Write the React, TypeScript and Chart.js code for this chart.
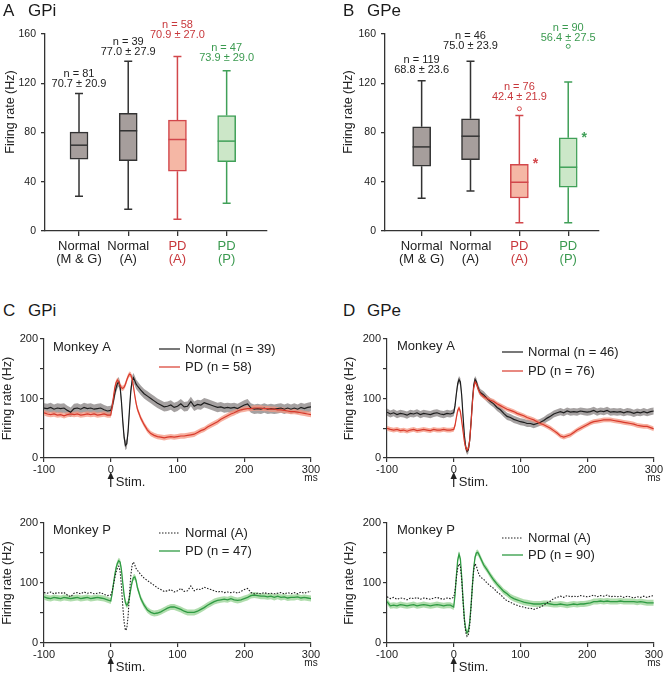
import React, { useEffect, useRef } from "react";
import { Chart, registerables } from "chart.js";

Chart.register(...registerables);

const FONT = "'Liberation Sans', Arial, Helvetica, sans-serif";
Chart.defaults.font.family = FONT;

// ---------------- Box plots (A: GPi, B: GPe) ----------------
const BOX_CATEGORIES = [["Normal", "(M & G)"], ["Normal", "(A)"], ["PD", "(A)"], ["PD", "(P)"]];
const BOX_TEXT_COLORS = ["#222222", "#222222", "#c8383c", "#3b9a50"];
const BOX_FILLS = ["#a69e9c", "#a69e9c", "#f5b7a5", "#cce7c8"];
const BOX_EDGES = ["#333333", "#333333", "#d2474b", "#40a058"];

const GPI_N = [81, 39, 58, 47];
const GPI_MEAN = [70.7, 77.0, 70.9, 73.9];
const GPI_SD = [20.9, 27.9, 27.0, 29.0];
const GPI_LOW = [28.2, 17.6, 9.5, 22.5];
const GPI_Q1 = [58.3, 57.2, 48.5, 56.4];
const GPI_MEDIAN = [69.7, 81.4, 74.3, 73.0];
const GPI_Q3 = [80.3, 95.5, 90.0, 93.8];
const GPI_HIGH = [111.7, 137.8, 141.8, 130.2];
const GPI_OUTLIERS: number[][] = [[], [], [], []];
const GPI_SIGNIFICANT = [false, false, false, false];
const GPI_LABEL_AT = [119.4, 145.4, 159.2, 140.5];

const GPE_N = [119, 46, 76, 90];
const GPE_MEAN = [68.8, 75.0, 42.4, 56.4];
const GPE_SD = [23.6, 23.9, 21.9, 27.5];
const GPE_LOW = [26.6, 32.5, 6.8, 6.8];
const GPE_Q1 = [52.6, 58.0, 26.8, 35.5];
const GPE_MEDIAN = [68.3, 77.0, 39.6, 51.8];
const GPE_Q3 = [84.6, 91.1, 54.2, 75.7];
const GPE_HIGH = [122.0, 137.8, 93.8, 121.0];
const GPE_OUTLIERS: number[][] = [[], [], [99.3], [150.0]];
const GPE_SIGNIFICANT = [false, false, true, true];
const GPE_LABEL_AT = [130.8, 150.3, 108.9, 156.8];

// ---------------- Peri-stimulus time histograms (C, D) ----------------
const TIME = [
  -100, -95, -90, -85, -80, -75, -70, -65, -60, -55, -50, -45, -40, -35, -30, -25, -20, -15, -10, -5,
  0, 2, 4, 6, 8, 10, 12, 14, 16, 18, 20, 22, 24, 26, 28, 30, 32, 34, 36, 38, 40,
  45, 50, 55, 60, 65, 70, 75, 80, 85, 90, 95, 100, 105, 110, 115, 120, 125, 130, 135, 140,
  145, 150, 155, 160, 165, 170, 175, 180, 185, 190, 195, 200, 205, 210, 215, 220, 225, 230, 235, 240,
  245, 250, 255, 260, 265, 270, 275, 280, 285, 290, 295, 300,
];

const GPI_A_NORMAL = [
  84, 83, 85, 82, 84, 83, 84, 80, 77, 83, 84, 82, 85, 83, 84, 82, 83, 84, 81, 79,
  80, 86, 96, 108, 118, 125, 128, 120, 95, 62, 35, 21, 24, 45, 80, 112, 130, 135, 130, 124, 121,
  114, 108, 104, 100, 96, 92, 89, 86, 87, 89, 85, 87, 91, 86, 87, 95, 87, 90, 89, 93,
  91, 89, 87, 85, 86, 84, 85, 84, 85, 83, 86, 89, 91, 84, 82, 83, 82, 84, 82, 83,
  82, 83, 84, 82, 84, 82, 84, 82, 85, 83, 85, 86,
];
const GPI_A_PD = [
  76, 74, 73, 74, 72, 73, 71, 73, 74, 73, 74, 72, 73, 74, 73, 74, 72, 73, 74, 72,
  72, 85, 102, 118, 127, 131, 128, 122, 118, 117, 119, 124, 131, 137, 141, 140, 133, 120, 105, 92, 82,
  67, 56, 47, 41, 38, 36, 35, 34, 35, 36, 35, 36, 37, 37, 38, 39, 40, 43, 46, 48,
  52, 55, 58, 61, 65, 68, 71, 74, 76, 79, 81, 82, 83, 83, 84, 84, 84, 83, 83, 82,
  82, 81, 81, 80, 79, 78, 78, 77, 76, 75, 74, 73,
];
const GPE_A_NORMAL = [
  77, 74, 76, 73, 75, 74, 72, 75, 74, 76, 73, 75, 74, 73, 75, 76, 74, 73, 75, 74,
  76, 88, 108, 125, 132, 128, 105, 70, 38, 18, 11, 14, 30, 60, 95, 122, 132, 128, 120, 114, 110,
  106, 100, 95, 91, 85, 81, 75, 70, 68, 65, 63, 61, 60, 58, 58, 56, 58, 60, 63, 67,
  70, 74, 76, 78, 76, 79, 77, 78, 77, 79, 78, 77, 78, 80, 77, 79, 78, 80, 77, 78,
  77, 78, 76, 78, 77, 75, 77, 76, 78, 76, 78, 79,
];
const GPE_A_PD = [
  50, 48, 47, 48, 46, 47, 45, 47, 48, 46, 47, 48, 47, 46, 48, 47, 47, 48, 47, 47,
  48, 55, 68, 80, 84, 78, 62, 45, 28, 17, 13, 16, 30, 58, 92, 118, 128, 125, 118, 112, 108,
  103, 100, 97, 95, 91, 88, 85, 82, 80, 78, 75, 73, 71, 68, 66, 64, 61, 58, 56, 53,
  50, 46, 42, 37, 35, 37, 39, 43, 47, 50, 53, 56, 59, 61, 62, 63, 64, 64, 64, 63,
  62, 61, 60, 59, 58, 57, 55, 54, 53, 53, 51, 49,
];
const GPI_P_PD = [
  77, 75, 74, 76, 75, 74, 76, 75, 74, 75, 76, 74, 75, 76, 74, 75, 76, 75, 74, 72,
  70, 82, 98, 113, 125, 133, 137, 135, 122, 100, 80, 67, 63, 66, 76, 90, 102, 109, 110, 104, 92,
  74, 63, 55, 51, 49, 50, 52, 55, 58, 60, 60, 58, 56, 53, 51, 51, 51, 53, 56, 59,
  63, 66, 69, 71, 72, 73, 72, 74, 72, 71, 72, 74, 76, 79, 80, 79, 78, 78, 77, 78,
  76, 78, 76, 77, 75, 76, 76, 77, 75, 76, 75, 74,
];
const GPE_P_PD = [
  69, 62, 63, 62, 64, 63, 62, 63, 64, 62, 63, 64, 63, 62, 63, 64, 63, 62, 63, 63,
  60, 80, 112, 138, 148, 140, 110, 72, 40, 22, 17, 20, 35, 62, 95, 125, 143, 150, 151, 147, 142,
  130, 122, 113, 105, 98, 92, 86, 82, 77, 74, 72, 70, 68, 67, 66, 65, 65, 65, 66, 66,
  65, 64, 64, 65, 64, 63, 64, 65, 64, 65, 65, 66, 67, 69, 69, 70, 69, 70, 69, 69,
  69, 70, 69, 69, 69, 69, 68, 69, 68, 67, 67, 67,
];
const GPI_A_NORMAL_SEM = 8;
const GPI_A_PD_SEM = 4.5;
const GPE_A_NORMAL_SEM = 6;
const GPE_A_PD_SEM = 4;
const GPI_P_PD_SEM = 5;
const GPE_P_PD_SEM = 5;

const BLACK = "#1e1e1e";
const GRAY_BAND = "rgba(105,98,98,0.6)";
const RED = "#d83a2c";
const RED_BAND = "rgba(244,150,128,0.75)";
const GREEN = "#2f9b43";
const GREEN_BAND = "rgba(150,210,145,0.75)";

function BoxPanel(props: any) {
  const ref = useRef<HTMLCanvasElement>(null);
  useEffect(() => {
    const { w, h, area, xMin, xMax, d, yTitleX, yTitleY } = props;
    const boxPlugin = {
      id: "boxExtras",
      beforeDatasetsDraw(chart: any) {
        const ctx = chart.ctx;
        const xs = chart.scales.x;
        const ys = chart.scales.y;
        ctx.save();
        ctx.lineWidth = 1.5;
        d.q1.forEach((_: number, i: number) => {
          const cx = xs.getPixelForValue(i + 1);
          const hi = ys.getPixelForValue(d.high[i]);
          const lo = ys.getPixelForValue(d.low[i]);
          ctx.strokeStyle = BOX_EDGES[i];
          ctx.beginPath();
          ctx.moveTo(cx, ys.getPixelForValue(d.q3[i]));
          ctx.lineTo(cx, hi);
          ctx.moveTo(cx - 4, hi);
          ctx.lineTo(cx + 4, hi);
          ctx.moveTo(cx, ys.getPixelForValue(d.q1[i]));
          ctx.lineTo(cx, lo);
          ctx.moveTo(cx - 4, lo);
          ctx.lineTo(cx + 4, lo);
          ctx.stroke();
        });
        ctx.restore();
      },
      afterDatasetsDraw(chart: any) {
        const ctx = chart.ctx;
        const xs = chart.scales.x;
        const ys = chart.scales.y;
        ctx.save();
        d.q1.forEach((_: number, i: number) => {
          const cx = xs.getPixelForValue(i + 1);
          // median
          const my = ys.getPixelForValue(d.median[i]);
          ctx.strokeStyle = BOX_EDGES[i];
          ctx.lineWidth = 1.5;
          ctx.beginPath();
          ctx.moveTo(cx - 9, my);
          ctx.lineTo(cx + 9, my);
          ctx.stroke();
          // outliers
          d.outliers[i].forEach((v: number) => {
            ctx.beginPath();
            ctx.lineWidth = 1;
            ctx.arc(cx, ys.getPixelForValue(v), 2, 0, Math.PI * 2);
            ctx.fillStyle = "#fff";
            ctx.fill();
            ctx.stroke();
          });
          // significance
          if (d.sig[i]) {
            ctx.fillStyle = BOX_EDGES[i];
            ctx.font = `bold 14px ${FONT}`;
            ctx.textAlign = "center";
            ctx.textBaseline = "alphabetic";
            ctx.fillText("*", cx + 16, ys.getPixelForValue(d.q3[i]) + 4);
          }
          // n and mean ± SD
          const ly = ys.getPixelForValue(d.labelAt[i]);
          ctx.fillStyle = BOX_TEXT_COLORS[i];
          ctx.font = `11px ${FONT}`;
          ctx.textAlign = "center";
          ctx.textBaseline = "middle";
          ctx.fillText(`n = ${d.n[i]}`, cx, ly - 10);
          ctx.fillText(`${d.mean[i].toFixed(1)} ± ${d.sd[i].toFixed(1)}`, cx, ly);
        });
        // y title
        ctx.translate(yTitleX, yTitleY);
        ctx.rotate(-Math.PI / 2);
        ctx.fillStyle = "#222";
        ctx.font = `12.5px ${FONT}`;
        ctx.textAlign = "center";
        ctx.textBaseline = "middle";
        ctx.fillText("Firing rate (Hz)", 0, 0);
        ctx.restore();
      },
    };
    const chart = new Chart(ref.current as HTMLCanvasElement, {
      type: "bar",
      data: {
        datasets: [
          {
            data: d.q1.map((q: number, i: number) => ({ x: i + 1, y: [q, d.q3[i]] })),
            backgroundColor: BOX_FILLS,
            borderColor: BOX_EDGES,
            borderWidth: 1.5,
            borderSkipped: false,
            barThickness: 18,
          } as any,
        ],
      },
      options: {
        animation: false,
        responsive: false,
        devicePixelRatio: 1,
        layout: { padding: { top: area.t, right: w - area.r, left: 0, bottom: 0 } },
        plugins: { legend: { display: false }, tooltip: { enabled: false } },
        scales: {
          x: {
            type: "linear",
            min: xMin,
            max: xMax,
            offset: false,
            afterBuildTicks: (s: any) => {
              s.ticks = BOX_CATEGORIES.map((_, i) => ({ value: i + 1 }));
            },
            afterFit: (s: any) => {
              s.height = h - area.b;
            },
            ticks: {
              callback: (v: any) => BOX_CATEGORIES[Math.round(v) - 1] || "",
              color: (c: any) => BOX_TEXT_COLORS[c.index] || "#222",
              font: { size: 13, lineHeight: 1.0 },
              padding: 4,
              maxRotation: 0,
              autoSkip: false,
            },
            grid: { offset: false, drawOnChartArea: false, drawTicks: true, tickLength: 5, color: "#333", lineWidth: 1.3 },
            border: { display: true, color: "#333", width: 1.3 },
          },
          y: {
            min: 0,
            max: 160,
            afterFit: (s: any) => {
              s.width = area.l;
            },
            ticks: { stepSize: 40, color: "#222", font: { size: 10.5 }, padding: 5 },
            grid: { drawOnChartArea: false, drawTicks: true, tickLength: 4, color: "#333", lineWidth: 1.3 },
            border: { display: true, color: "#333", width: 1.3 },
          },
        },
      } as any,
      plugins: [boxPlugin],
    });
    return () => chart.destroy();
  }, []);
  return (
    <canvas
      ref={ref}
      width={props.w}
      height={props.h}
      style={{ position: "absolute", left: props.left, top: props.top, width: props.w, height: props.h }}
    />
  );
}

function LinePanel(props: any) {
  const ref = useRef<HTMLCanvasElement>(null);
  useEffect(() => {
    const { w, h, area, series, legendX, legendRows, monkey, monkeyX, monkeyY, yTitleX } = props;
    const datasets: any[] = [];
    series.forEach((s: any) => {
      if (s.sem != null) {
        datasets.push({
          data: TIME.map((t, i) => ({ x: t, y: s.data[i] + s.sem })),
          borderColor: "rgba(0,0,0,0)",
          borderWidth: 0,
          pointRadius: 0,
          fill: "+1",
          backgroundColor: s.band,
          order: s.bandOrder,
        });
        datasets.push({
          data: TIME.map((t, i) => ({ x: t, y: s.data[i] - s.sem })),
          borderColor: "rgba(0,0,0,0)",
          borderWidth: 0,
          pointRadius: 0,
          fill: false,
          order: s.bandOrder,
        });
      }
    });
    series.forEach((s: any) => {
      datasets.push({
        data: TIME.map((t, i) => ({ x: t, y: s.data[i] })),
        borderColor: s.color,
        borderWidth: s.width,
        borderDash: s.dash || [],
        pointRadius: 0,
        fill: false,
        order: s.lineOrder,
      });
    });
    const extras = {
      id: "lineExtras",
      afterDraw(chart: any) {
        const ctx = chart.ctx;
        const xs = chart.scales.x;
        const ys = chart.scales.y;
        const axisY = ys.getPixelForValue(0);
        ctx.save();
        // monkey label
        ctx.fillStyle = "#222";
        ctx.font = `13px ${FONT}`;
        ctx.textAlign = "left";
        ctx.textBaseline = "middle";
        ctx.fillText(monkey, monkeyX, monkeyY);
        // legend
        series.forEach((s: any, k: number) => {
          const y = legendRows[k];
          ctx.strokeStyle = s.color;
          ctx.lineWidth = s.width;
          ctx.setLineDash(s.dash || []);
          ctx.beginPath();
          ctx.moveTo(legendX, y);
          ctx.lineTo(legendX + 21, y);
          ctx.stroke();
          ctx.setLineDash([]);
          ctx.fillStyle = "#222";
          ctx.fillText(s.label, legendX + 26, y);
        });
        // stimulus arrow
        const x0 = xs.getPixelForValue(0);
        ctx.strokeStyle = "#222";
        ctx.fillStyle = "#222";
        ctx.lineWidth = 1.2;
        ctx.beginPath();
        ctx.moveTo(x0, axisY + 19);
        ctx.lineTo(x0, axisY + 29);
        ctx.stroke();
        ctx.beginPath();
        ctx.moveTo(x0, axisY + 14);
        ctx.lineTo(x0 - 3.2, axisY + 21);
        ctx.lineTo(x0 + 3.2, axisY + 21);
        ctx.closePath();
        ctx.fill();
        ctx.font = `13px ${FONT}`;
        ctx.textAlign = "left";
        ctx.fillText("Stim.", x0 + 5, axisY + 24);
        // ms unit
        ctx.font = `10px ${FONT}`;
        ctx.textAlign = "center";
        ctx.fillText("ms", xs.getPixelForValue(300), axisY + 20.5);
        // y title
        ctx.translate(yTitleX, (chart.chartArea.top + chart.chartArea.bottom) / 2);
        ctx.rotate(-Math.PI / 2);
        ctx.font = `12.5px ${FONT}`;
        ctx.fillText("Firing rate (Hz)", 0, 0);
        ctx.restore();
      },
    };
    const chart = new Chart(ref.current as HTMLCanvasElement, {
      type: "line",
      data: { datasets },
      options: {
        animation: false,
        responsive: false,
        devicePixelRatio: 1,
        layout: { padding: { top: area.t, right: w - area.r, left: 0, bottom: 0 } },
        plugins: { legend: { display: false }, tooltip: { enabled: false } },
        elements: { line: { tension: 0 } },
        scales: {
          x: {
            type: "linear",
            min: -100,
            max: 300,
            afterFit: (s: any) => {
              s.height = h - area.b;
            },
            ticks: { stepSize: 100, color: "#222", font: { size: 11 }, padding: 1, maxRotation: 0, autoSkip: false },
            grid: { drawOnChartArea: false, drawTicks: true, tickLength: 4, color: "#333", lineWidth: 1.2 },
            border: { display: true, color: "#333", width: 1.2 },
          },
          y: {
            min: 0,
            max: 200,
            afterFit: (s: any) => {
              s.width = area.l;
            },
            ticks: {
              stepSize: 50,
              color: "#222",
              font: { size: 11 },
              padding: 2,
              callback: (v: any) => (v % 100 === 0 ? String(v) : ""),
            },
            grid: { drawOnChartArea: false, drawTicks: true, tickLength: 4, color: "#333", lineWidth: 1.2 },
            border: { display: true, color: "#333", width: 1.2 },
          },
        },
      } as any,
      plugins: [extras],
    });
    return () => chart.destroy();
  }, []);
  return (
    <canvas
      ref={ref}
      width={props.w}
      height={props.h}
      style={{ position: "absolute", left: props.left, top: props.top, width: props.w, height: props.h }}
    />
  );
}

function PanelTitle({ letter, name, x, nameX, y }: any) {
  const st: any = { position: "absolute", top: y, fontSize: 17, lineHeight: "17px", color: "#1a1a1a", fontFamily: FONT, whiteSpace: "nowrap" };
  return (
    <>
      <div style={{ ...st, left: x }}>{letter}</div>
      <div style={{ ...st, left: nameX }}>{name}</div>
    </>
  );
}

export default function App() {
  useEffect(() => {
    document.body.style.margin = "0";
  }, []);
  const gpi = {
    n: GPI_N, mean: GPI_MEAN, sd: GPI_SD, low: GPI_LOW, q1: GPI_Q1, median: GPI_MEDIAN, q3: GPI_Q3,
    high: GPI_HIGH, outliers: GPI_OUTLIERS, sig: GPI_SIGNIFICANT, labelAt: GPI_LABEL_AT,
  };
  const gpe = {
    n: GPE_N, mean: GPE_MEAN, sd: GPE_SD, low: GPE_LOW, q1: GPE_Q1, median: GPE_MEDIAN, q3: GPE_Q3,
    high: GPE_HIGH, outliers: GPE_OUTLIERS, sig: GPE_SIGNIFICANT, labelAt: GPE_LABEL_AT,
  };
  const cTop = [
    { label: `Normal (n = ${GPI_N[1]})`, data: GPI_A_NORMAL, sem: GPI_A_NORMAL_SEM, color: BLACK, band: GRAY_BAND, width: 1.2, lineOrder: 1, bandOrder: 11 },
    { label: `PD (n = ${GPI_N[2]})`, data: GPI_A_PD, sem: GPI_A_PD_SEM, color: RED, band: RED_BAND, width: 1.2, lineOrder: 0, bandOrder: 10 },
  ];
  const dTop = [
    { label: `Normal (n = ${GPE_N[1]})`, data: GPE_A_NORMAL, sem: GPE_A_NORMAL_SEM, color: BLACK, band: GRAY_BAND, width: 1.2, lineOrder: 1, bandOrder: 11 },
    { label: `PD (n = ${GPE_N[2]})`, data: GPE_A_PD, sem: GPE_A_PD_SEM, color: RED, band: RED_BAND, width: 1.2, lineOrder: 0, bandOrder: 10 },
  ];
  const cBottom = [
    { label: "Normal (A)", data: GPI_A_NORMAL, color: BLACK, width: 1.1, dash: [1.5, 1.5], lineOrder: 0 },
    { label: `PD (n = ${GPI_N[3]})`, data: GPI_P_PD, sem: GPI_P_PD_SEM, color: GREEN, band: GREEN_BAND, width: 1.3, lineOrder: 1, bandOrder: 10 },
  ];
  const dBottom = [
    { label: "Normal (A)", data: GPE_A_NORMAL, color: BLACK, width: 1.1, dash: [1.5, 1.5], lineOrder: 0 },
    { label: `PD (n = ${GPE_N[3]})`, data: GPE_P_PD, sem: GPE_P_PD_SEM, color: GREEN, band: GREEN_BAND, width: 1.3, lineOrder: 1, bandOrder: 10 },
  ];
  return (
    <div style={{ position: "relative", width: 664, height: 673, background: "#fff", overflow: "hidden", fontFamily: FONT }}>
      <BoxPanel left={0} top={0} w={330} h={290} area={{ l: 45, t: 34, r: 267, b: 231 }} xMin={0.309} xMax={4.82} d={gpi} yTitleX={11} yTitleY={112} />
      <BoxPanel left={330} top={0} w={334} h={290} area={{ l: 55, t: 34, r: 269, b: 231 }} xMin={0.25} xMax={4.63} d={gpe} yTitleX={19} yTitleY={112} />
      <LinePanel left={0} top={320} w={330} h={170} area={{ l: 44, t: 19, r: 311, b: 138 }} series={cTop} legendX={159} legendRows={[29, 47]} monkey="Monkey A" monkeyX={53} monkeyY={27} yTitleX={8} />
      <LinePanel left={330} top={320} w={334} h={170} area={{ l: 57, t: 19, r: 324, b: 138 }} series={dTop} legendX={172} legendRows={[32, 51]} monkey="Monkey A" monkeyX={67} monkeyY={26} yTitleX={20} />
      <LinePanel left={0} top={490} w={330} h={183} area={{ l: 44, t: 33, r: 311, b: 153 }} series={cBottom} legendX={159} legendRows={[43, 61]} monkey="Monkey P" monkeyX={53} monkeyY={40} yTitleX={8} />
      <LinePanel left={330} top={490} w={334} h={183} area={{ l: 57, t: 33, r: 324, b: 153 }} series={dBottom} legendX={172} legendRows={[48, 65]} monkey="Monkey P" monkeyX={67} monkeyY={40} yTitleX={20} />
      <PanelTitle letter="A" name="GPi" x={3} nameX={28} y={2} />
      <PanelTitle letter="B" name="GPe" x={343} nameX={367} y={2} />
      <PanelTitle letter="C" name="GPi" x={3} nameX={28} y={302} />
      <PanelTitle letter="D" name="GPe" x={343} nameX={367} y={302} />
    </div>
  );
}
